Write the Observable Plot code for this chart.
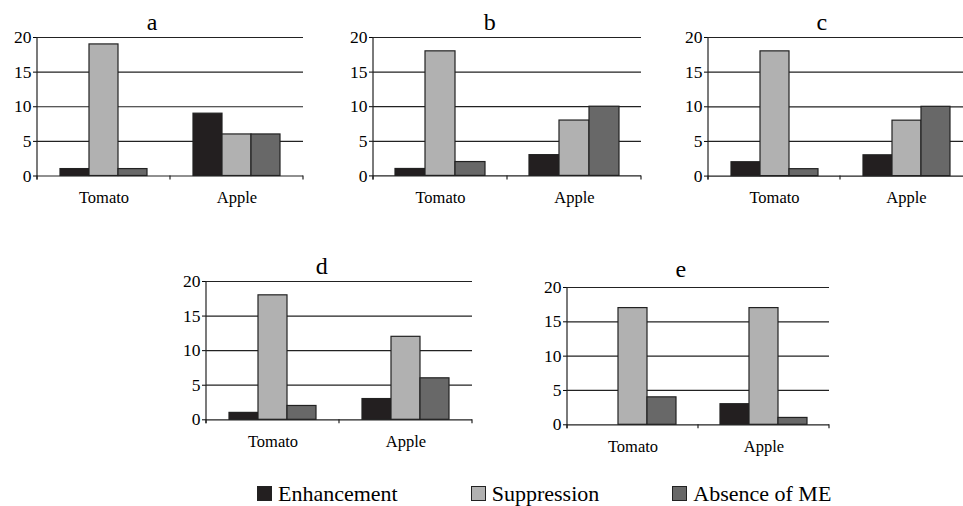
<!DOCTYPE html>
<html>
<head>
<meta charset="utf-8">
<script src="https://cdn.jsdelivr.net/npm/d3@7"></script>
<script src="https://cdn.jsdelivr.net/npm/@observablehq/plot@0.6"></script>
<style>
  html, body { margin: 0; padding: 0; background: #fff; }
  #root { position: relative; width: 963px; height: 506px; overflow: hidden; color: #000; }
  #root, #root div, #root span, #root svg, #root svg text { font-family: "Liberation Serif", "Times New Roman", serif !important; }
  .panel-title { position: absolute; text-align: center; font-size: 24px; line-height: 24px; }
  .panel-svg { position: absolute; }
  #legend { position: absolute; left: 257px; top: 482.5px; display: flex; gap: 73px; font-size: 22px; line-height: 22px; }
  .item { display: flex; align-items: center; gap: 6px; }
  .sw { width: 15px; height: 15px; box-sizing: border-box; border: 1px solid #222; }
</style>
</head>
<body>
<div id="root"></div>
<script>
// ---- data ----
const categories = ["Tomato", "Apple"];
const series = ["Enhancement", "Suppression", "Absence of ME"];
const panelKeys = ["a", "b", "c", "d", "e"];
// values per panel: [Tomato series], [Apple series]
const valuesA = [[1, 19, 1], [9, 6, 6]];
const valuesB = [[1, 18, 2], [3, 8, 10]];
const valuesC = [[2, 18, 1], [3, 8, 10]];
const valuesD = [[1, 18, 2], [3, 12, 6]];
const valuesE = [[0, 17, 4], [3, 17, 1]];
const yTicks = [0, 5, 10, 15, 20];
const colors = ["#231f20", "#b1b1b1", "#686868"];

// ---- layout (not data) ----
const layout = {
  a: {left: 0, top: 29, plotW: 267, plotH: 138.5, titleTop: 10},
  b: {left: 337.3, top: 29.3, plotW: 268, plotH: 138.4, titleTop: 10},
  c: {left: 670.7, top: 28.7, plotW: 265.5, plotH: 138.6, titleTop: 10},
  d: {left: 170, top: 272.7, plotW: 266.3, plotH: 138.3, titleTop: 254},
  e: {left: 531.3, top: 278.7, plotW: 262, plotH: 137.3, titleTop: 257}
};
const M = {left: 36, right: 1, top: 8, bottom: 32};

const allValues = {a: valuesA, b: valuesB, c: valuesC, d: valuesD, e: valuesE};
const root = document.getElementById("root");

for (const key of panelKeys) {
  const L = layout[key];
  const rows = [];
  allValues[key].forEach((vals, ci) => vals.forEach((v, si) => rows.push({cat: categories[ci], series: series[si], value: v})));
  const width = M.left + L.plotW + M.right;
  const height = M.top + L.plotH + M.bottom;
  const chart = Plot.plot({
    width, height,
    marginLeft: M.left, marginRight: M.right, marginTop: M.top, marginBottom: M.bottom,
    style: {fontFamily: "'Liberation Serif', 'Times New Roman', serif", fontSize: "16px", background: "transparent", color: "#000", overflow: "visible"},
    fx: {domain: categories, padding: 0, label: null},
    x: {domain: series, paddingInner: 0, paddingOuter: 0.725, axis: null},
    y: {domain: [0, 20], label: null},
    color: {domain: series, range: colors},
    marks: [
      Plot.gridY(yTicks.filter(t => t > 0), {stroke: "#222", strokeOpacity: 1, strokeWidth: 1.2}),
      Plot.barY(rows, {fx: "cat", x: "series", y: "value", fill: "series", stroke: "#222", strokeWidth: 1.2}),
      Plot.ruleY([0], {stroke: "#222", strokeWidth: 1.2}),
      Plot.axisY({ticks: yTicks, tickSize: 4, tickPadding: 2, label: null, fontSize: 17.5}),
      Plot.axisFx({anchor: "bottom", tickSize: 0, tickPadding: 15, label: null, fontSize: 16.5})
    ]
  });
  // axis line and category boundary ticks, placed with the chart's own scales
  const fx = chart.scale("fx"), y = chart.scale("y");
  const bw = typeof fx.bandwidth === "function" ? fx.bandwidth() : fx.bandwidth;
  const xs = categories.map(c => fx.apply(c));
  xs.push(fx.apply(categories[categories.length - 1]) + bw);
  const y0 = y.apply(0), yTop = y.apply(yTicks[yTicks.length - 1]);
  const g = d3.select(chart).append("g").attr("stroke", "#222").attr("stroke-width", 1.2);
  g.append("line").attr("x1", xs[0]).attr("x2", xs[0]).attr("y1", yTop).attr("y2", y0 + 4);
  xs.forEach(x => g.append("line").attr("x1", x).attr("x2", x).attr("y1", y0).attr("y2", y0 + 4));

  chart.classList.add("panel-svg");
  chart.style.left = L.left + "px";
  chart.style.top = L.top + "px";
  root.appendChild(chart);

  const t = document.createElement("div");
  t.className = "panel-title";
  t.textContent = key;
  t.style.left = L.left + "px";
  t.style.width = width + "px";
  t.style.top = L.titleTop + "px";
  root.appendChild(t);
}

// legend
const legend = document.createElement("div");
legend.id = "legend";
series.forEach((s, i) => {
  const item = document.createElement("div");
  item.className = "item";
  const sw = document.createElement("div");
  sw.className = "sw";
  sw.style.background = colors[i];
  const label = document.createElement("span");
  label.textContent = s;
  item.appendChild(sw);
  item.appendChild(label);
  legend.appendChild(item);
});
root.appendChild(legend);
</script>
</body>
</html>
